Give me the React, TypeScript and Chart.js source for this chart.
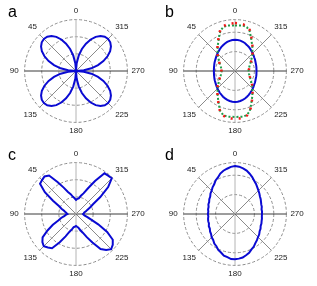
import React, { useEffect, useRef } from 'react';
import { Chart, registerables } from 'chart.js';

Chart.register(...registerables);

// Angles (degrees, counter-clockwise from the top), one sample every 5 degrees
const ANGLES = [
  0, 5, 10, 15, 20, 25, 30, 35, 40, 45, 50, 55, 60, 65, 70, 75, 80, 85,
  90, 95, 100, 105, 110, 115, 120, 125, 130, 135, 140, 145, 150, 155, 160, 165, 170, 175,
  180, 185, 190, 195, 200, 205, 210, 215, 220, 225, 230, 235, 240, 245, 250, 255, 260, 265,
  270, 275, 280, 285, 290, 295, 300, 305, 310, 315, 320, 325, 330, 335, 340, 345, 350, 355,
];

const AXIS_LABELS = ['0', '45', '90', '135', '180', '225', '270', '315'];
const PANEL_LETTERS = ['a', 'b', 'c', 'd'];

// Panel a: four-leaf rose (outer ring = 3)
const A_BLUE = [
  0, 0.46, 0.91, 1.33, 1.7, 2.03, 2.3, 2.49, 2.61, 2.65, 2.61, 2.49, 2.3, 2.03, 1.7, 1.33, 0.91, 0.46,
  0, 0.46, 0.91, 1.33, 1.7, 2.03, 2.3, 2.49, 2.61, 2.65, 2.61, 2.49, 2.3, 2.03, 1.7, 1.33, 0.91, 0.46,
  0, 0.46, 0.91, 1.33, 1.7, 2.03, 2.3, 2.49, 2.61, 2.65, 2.61, 2.49, 2.3, 2.03, 1.7, 1.33, 0.91, 0.46,
  0, 0.46, 0.91, 1.33, 1.7, 2.03, 2.3, 2.49, 2.61, 2.65, 2.61, 2.49, 2.3, 2.03, 1.7, 1.33, 0.91, 0.46,
];

// Panel b (outer ring = 2.65)
const B_BLUE = [
  1.61, 1.6, 1.58, 1.55, 1.51, 1.46, 1.42, 1.37, 1.32, 1.28, 1.24, 1.2, 1.17, 1.15, 1.13, 1.11, 1.1, 1.09,
  1.09, 1.09, 1.1, 1.11, 1.13, 1.15, 1.17, 1.2, 1.24, 1.28, 1.32, 1.37, 1.41, 1.46, 1.5, 1.54, 1.57, 1.59,
  1.6, 1.59, 1.57, 1.54, 1.51, 1.46, 1.42, 1.37, 1.33, 1.29, 1.25, 1.21, 1.19, 1.16, 1.14, 1.13, 1.12, 1.11,
  1.11, 1.11, 1.12, 1.13, 1.14, 1.16, 1.19, 1.21, 1.25, 1.29, 1.33, 1.38, 1.43, 1.47, 1.52, 1.56, 1.59, 1.6,
];
const B_GREEN = [
  2.34, 2.35, 2.38, 2.34, 2.2, 1.94, 1.72, 1.56, 1.4, 1.27, 1.15, 1.03, 0.94, 0.86, 0.8, 0.75, 0.72, 0.7,
  0.69, 0.7, 0.72, 0.75, 0.8, 0.86, 0.94, 1.03, 1.15, 1.27, 1.4, 1.56, 1.73, 1.95, 2.21, 2.35, 2.39, 2.37,
  2.37, 2.37, 2.39, 2.35, 2.21, 1.95, 1.73, 1.56, 1.4, 1.27, 1.15, 1.03, 0.94, 0.86, 0.8, 0.76, 0.73, 0.71,
  0.7, 0.71, 0.73, 0.76, 0.8, 0.86, 0.94, 1.03, 1.15, 1.27, 1.4, 1.56, 1.72, 1.94, 2.2, 2.34, 2.38, 2.35,
];
const B_RED = [
  2.47, 2.46, 2.44, 2.38, 2.24, 1.98, 1.75, 1.57, 1.41, 1.28, 1.16, 1.04, 0.95, 0.87, 0.81, 0.76, 0.73, 0.71,
  0.7, 0.71, 0.73, 0.76, 0.81, 0.87, 0.95, 1.04, 1.16, 1.28, 1.41, 1.57, 1.75, 1.98, 2.24, 2.38, 2.44, 2.46,
  2.46, 2.46, 2.44, 2.38, 2.24, 1.98, 1.75, 1.57, 1.41, 1.28, 1.16, 1.04, 0.95, 0.87, 0.81, 0.77, 0.74, 0.72,
  0.71, 0.72, 0.74, 0.77, 0.81, 0.87, 0.95, 1.04, 1.16, 1.28, 1.41, 1.57, 1.75, 1.98, 2.24, 2.38, 2.44, 2.46,
];

// Panel c: noisy butterfly (outer ring = 3)
const C_BLUE = [
  0.82, 0.92, 1.02, 1.2, 1.37, 1.7, 2.16, 2.74, 2.86, 2.8, 2.74, 2.22, 1.55, 1.1, 0.9, 0.72, 0.63, 0.55,
  0.5, 0.6, 0.7, 0.9, 1.1, 1.49, 1.92, 2.38, 2.56, 2.66, 2.55, 2.44, 1.9, 1.44, 1.1, 0.93, 0.78, 0.75,
  0.7, 0.75, 0.81, 0.98, 1.16, 1.49, 1.92, 2.5, 2.74, 2.9, 2.8, 2.62, 2.1, 1.43, 0.92, 0.69, 0.52, 0.45,
  0.41, 0.45, 0.49, 0.6, 0.7, 0.9, 1.16, 1.73, 2.45, 2.95, 2.92, 2.9, 2.22, 1.66, 1.28, 1.1, 0.93, 0.89,
];

// Panel d: noisy oval (outer ring = 2.65)
const D_BLUE = [
  2.47, 2.44, 2.37, 2.31, 2.22, 2.08, 2.0, 1.87, 1.8, 1.7, 1.65, 1.56, 1.53, 1.47, 1.46, 1.41, 1.41, 1.38,
  1.4, 1.38, 1.41, 1.43, 1.43, 1.49, 1.5, 1.57, 1.61, 1.7, 1.75, 1.86, 1.92, 2.04, 2.11, 2.22, 2.26, 2.33,
  2.33, 2.31, 2.28, 2.2, 2.13, 2.01, 1.94, 1.83, 1.76, 1.68, 1.63, 1.55, 1.52, 1.46, 1.45, 1.42, 1.41, 1.39,
  1.39, 1.4, 1.39, 1.43, 1.44, 1.48, 1.53, 1.57, 1.64, 1.71, 1.79, 1.89, 1.98, 2.1, 2.21, 2.32, 2.39, 2.45,
];

const FONT = 'Arial, "Liberation Sans", Helvetica, sans-serif';
const BLUE = '#0a0ad2';
const GREEN = '#1f9e4a';
const RED = '#f01818';

type Series = { data: number[]; color: string; width: number; dash?: number[] };

function toChartOrder<T>(arr: T[]): T[] {
  const n = arr.length;
  return arr.map((_, i) => arr[(n - i) % n]);
}

const CW = 170;
const CH = 130;

function PolarPanel(props: { series: Series[]; max: number; cx: number; cy: number }) {
  const ref = useRef<HTMLCanvasElement>(null);
  const { series, max, cx, cy } = props;
  useEffect(() => {
    const labels = toChartOrder(ANGLES).map(String);
    const chart = new Chart(ref.current as HTMLCanvasElement, {
      type: 'radar',
      data: {
        labels,
        datasets: series.map((s) => ({
          data: toChartOrder(s.data),
          borderColor: s.color,
          borderWidth: s.width,
          borderDash: s.dash || [],
          backgroundColor: 'transparent',
          fill: false,
          pointRadius: 0,
          pointHoverRadius: 0,
          tension: 0,
        })),
      },
      options: {
        responsive: false,
        animation: false,
        events: [],
        layout: { padding: 0 },
        plugins: { legend: { display: false }, tooltip: { enabled: false } },
        scales: {
          r: {
            min: 0,
            max,
            ticks: { display: false, stepSize: 1 },
            grid: { circular: true, color: '#8c8c8c', lineWidth: 1 },
            border: { dash: [3, 2] },
            angleLines: {
              display: true,
              lineWidth: (c: any) => (Number(labels[c.index]) % 45 === 0 ? 1 : 0),
              color: (c: any) => {
                const a = Number(labels[c.index]);
                if (a === 90 || a === 270) return '#3a3a3a';
                if (a === 0 || a === 180) return '#b4b4b4';
                return '#8a8a8a';
              },
            },
            pointLabels: {
              display: true,
              color: '#222222',
              font: { family: FONT, size: 8 },
              padding: (c: any) => (labels[c.index] === '90' ? 6 : 4),
              callback: (label: string) => (AXIS_LABELS.includes(String(label)) ? String(label) : ''),
            },
          },
        },
      } as any,
    });
    return () => chart.destroy();
  }, []);
  return (
    <canvas
      ref={ref}
      width={CW}
      height={CH}
      style={{ position: 'absolute', left: cx - CW / 2, top: cy - CH / 2, width: CW, height: CH }}
    />
  );
}

const letterStyle = (left: number, top: number): React.CSSProperties => ({
  position: 'absolute',
  left,
  top,
  fontFamily: FONT,
  fontSize: 16,
  lineHeight: '16px',
  color: '#000',
});

export default function App() {
  return (
    <div
      style={{
        position: 'fixed',
        left: 0,
        top: 0,
        width: 317,
        height: 286,
        overflow: 'hidden',
        background: '#ffffff',
      }}
    >
      <PolarPanel series={[{ data: A_BLUE, color: BLUE, width: 2 }]} max={3} cx={76} cy={71} />
      <PolarPanel
        series={[
          { data: B_RED, color: RED, width: 2.5, dash: [2, 6] },
          { data: B_GREEN, color: GREEN, width: 2, dash: [2, 2] },
          { data: B_BLUE, color: BLUE, width: 2 },
        ]}
        max={2.65}
        cx={235}
        cy={71}
      />
      <PolarPanel series={[{ data: C_BLUE, color: BLUE, width: 2 }]} max={3} cx={76} cy={214} />
      <PolarPanel series={[{ data: D_BLUE, color: BLUE, width: 2 }]} max={2.65} cx={235} cy={214} />
      <div style={letterStyle(8, 4)}>{PANEL_LETTERS[0]}</div>
      <div style={letterStyle(165, 4)}>{PANEL_LETTERS[1]}</div>
      <div style={letterStyle(8, 147)}>{PANEL_LETTERS[2]}</div>
      <div style={letterStyle(165, 147)}>{PANEL_LETTERS[3]}</div>
    </div>
  );
}
